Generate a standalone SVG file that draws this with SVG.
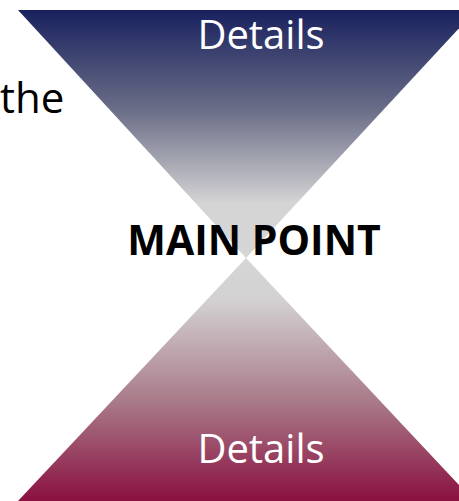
<svg xmlns="http://www.w3.org/2000/svg" width="459" height="501" viewBox="0 0 459 501">
<defs>
<linearGradient id="gTop" x1="0" y1="10" x2="0" y2="258" gradientUnits="userSpaceOnUse">
<stop offset="0" stop-color="#18215e"/>
<stop offset="0.4" stop-color="#6a6d87"/>
<stop offset="0.78" stop-color="#d4d4d4"/>
<stop offset="1" stop-color="#d6d6d6"/>
</linearGradient>
<linearGradient id="gBot" x1="0" y1="258" x2="0" y2="501" gradientUnits="userSpaceOnUse">
<stop offset="0" stop-color="#d6d6d6"/>
<stop offset="0.18" stop-color="#d2d0d1"/>
<stop offset="0.6" stop-color="#a87887"/>
<stop offset="1" stop-color="#8a1040"/>
</linearGradient>
<style>
.det{font-family:"Open Sans","Liberation Sans",sans-serif;font-size:40px;fill:#ffffff;text-anchor:middle}
.main{font-family:"Open Sans","Liberation Sans",sans-serif;font-size:41px;font-weight:bold;fill:#000000;text-anchor:middle}
.the{font-family:"Open Sans","Liberation Sans",sans-serif;font-size:42px;fill:#000000}
</style>
</defs>
<rect width="459" height="501" fill="#ffffff"/>
<g id="top">
<polygon points="18,10 476,10 246,258" fill="url(#gTop)"/>
<text class="det" x="261" y="49">Details</text>
</g>
<g id="bottom">
<polygon points="246,258 474,501 18,501" fill="url(#gBot)"/>
<text class="det" x="261" y="463">Details</text>
</g>
<g id="main">
<text class="main" x="254" y="255">MAIN POINT</text>
</g>
<text class="the" x="0" y="113">the</text>
</svg>
